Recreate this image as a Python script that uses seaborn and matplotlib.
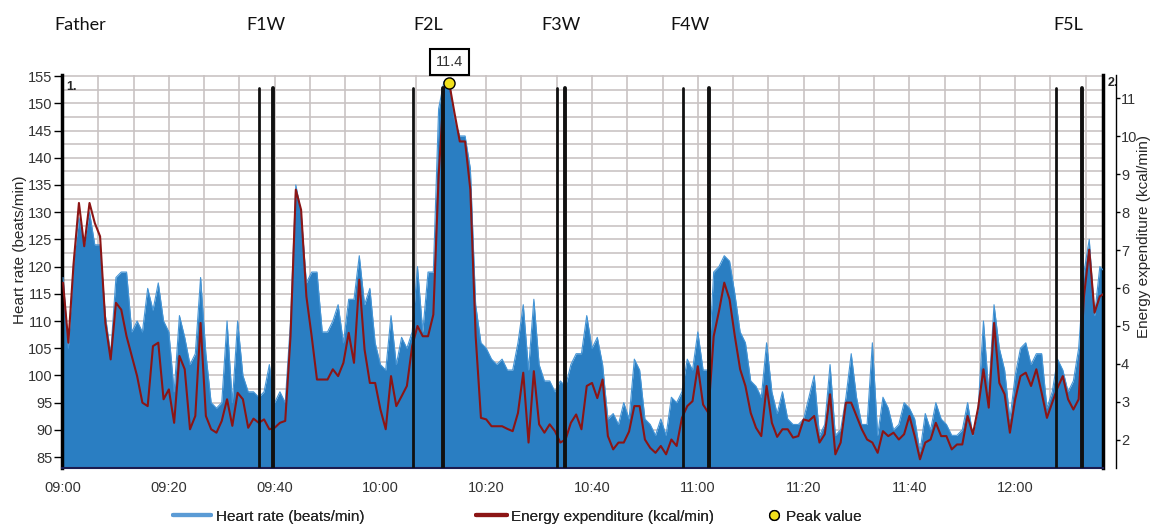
import numpy as np
import pandas as pd
import seaborn as sns
import matplotlib.pyplot as plt
import matplotlib.transforms as mtransforms
from matplotlib.lines import Line2D
from matplotlib.ticker import MultipleLocator

# One reading per minute, starting at 09:00
heart_rate = [
    118, 105, 121, 129, 124, 130, 124, 124, 111, 104, 118, 119, 119, 108, 110, 108, 116,
    112, 117, 110, 108, 97, 111, 107, 102, 104, 118, 104, 95, 94, 95, 110, 95, 110,
    100, 97, 97, 96, 97, 102, 95, 97, 95, 110, 135, 130, 117, 119, 119, 108, 108,
    110, 113, 106, 114, 114, 122, 113, 116, 106, 102, 101, 111, 102, 107, 105, 108, 120,
    108, 119, 119, 149, 154, 154, 147, 144, 144, 138, 113, 106, 105, 103, 102, 103, 101,
    101, 106, 113, 101, 114, 102, 99, 99, 97, 99, 98, 102, 104, 104, 111, 105, 107,
    102, 92, 93, 91, 95, 92, 103, 101, 92, 91, 89, 92, 89, 96, 95, 97, 103,
    101, 108, 101, 101, 119, 120, 122, 121, 115, 108, 106, 99, 98, 96, 106, 97, 93,
    97, 92, 91, 91, 92, 96, 100, 89, 91, 102, 89, 90, 96, 104, 96, 91, 91,
    106, 89, 96, 94, 90, 91, 95, 94, 92, 86, 93, 90, 95, 92, 91, 89, 89,
    90, 95, 89, 94, 110, 97, 113, 105, 101, 92, 100, 105, 106, 102, 104, 104, 94,
    97, 103, 101, 97, 99, 105, 119, 125, 111, 120, 119,
]

energy = [
    6.14, 4.56, 6.66, 8.24, 7.10, 8.24, 7.71, 7.36, 5.08, 4.12, 5.61, 5.43, 4.73, 4.21, 3.68, 2.98, 2.89,
    4.47, 4.56, 3.07, 3.33, 2.45, 4.21, 3.86, 2.28, 2.63, 5.08, 2.63, 2.28, 2.19, 2.50, 3.07, 2.37, 3.24,
    3.07, 2.32, 2.56, 2.45, 2.54, 2.28, 2.32, 2.45, 2.50, 4.73, 8.59, 8.06, 5.78, 4.73, 3.59, 3.59, 3.59,
    3.86, 3.68, 4.03, 4.82, 4.03, 6.22, 4.38, 3.50, 3.50, 2.80, 2.28, 3.68, 2.89, 3.15, 3.42, 4.47, 5.00,
    4.73, 4.73, 5.30, 8.94, 11.27, 11.40, 10.61, 9.86, 9.86, 8.59, 4.73, 2.58, 2.54, 2.36, 2.36, 2.36, 2.29,
    2.23, 2.71, 3.77, 1.93, 3.81, 2.41, 2.19, 2.41, 2.23, 1.93, 2.01, 2.45, 2.67, 2.28, 3.42, 3.50, 3.10,
    3.59, 2.10, 1.75, 1.93, 1.93, 2.22, 2.89, 2.89, 2.01, 1.79, 1.66, 1.84, 1.62, 2.01, 1.84, 2.58, 2.89,
    3.02, 3.94, 2.93, 2.71, 4.73, 5.39, 6.14, 5.70, 4.73, 3.86, 3.42, 2.71, 2.32, 2.10, 3.42, 2.45, 2.08,
    2.28, 2.28, 2.06, 2.10, 2.54, 2.50, 2.63, 1.93, 2.15, 3.20, 1.62, 1.93, 2.98, 2.98, 2.63, 2.28, 2.01,
    1.93, 1.66, 2.23, 2.10, 2.19, 2.01, 2.15, 2.63, 2.10, 1.49, 1.93, 2.01, 2.45, 2.10, 2.10, 1.75, 1.88,
    1.88, 2.63, 2.15, 2.85, 3.86, 2.85, 5.08, 3.50, 3.20, 2.19, 3.07, 3.68, 3.77, 3.42, 3.86, 3.24, 2.58,
    2.98, 3.37, 3.68, 3.07, 2.80, 3.07, 5.78, 7.01, 5.35, 5.78, 5.87,
]

tick_minutes = [0, 20, 40, 60, 80, 100, 120, 140, 160, 180]
tick_labels = ["09:00", "09:20", "09:40", "10:00", "10:20", "10:40", "11:00", "11:20", "11:40", "12:00"]

# event markers (minutes after 09:00)
event_minutes = [37.05, 39.7, 66.2, 71.8, 93.4, 94.9, 117.2, 122.1, 187.7, 192.6]
event_widths = [2.0, 2.8] * 5
event_labels = ["Father", "F1W", "F2L", "F3W", "F4W", "F5L"]
event_label_minutes = [3.2, 38.4, 69.0, 94.2, 118.5, 190.0]

peak_minute = 73
peak_value = 11.4

BLUE = "#2a7ec2"
BLUE_EDGE = "#4595d6"
RED = "#8c1515"
YELLOW = "#f0e01c"

df = pd.DataFrame({
    "minute": np.arange(len(heart_rate)),
    "heart_rate": heart_rate,
    "energy": energy,
})

sns.set_style("white")
plt.rcParams["font.family"] = ["Liberation Sans", "DejaVu Sans"]

fig = plt.figure(figsize=(11.56, 5.24), dpi=100)
ax = fig.add_axes([62 / 1156, 56 / 524, 1041 / 1156, 393 / 524])

# heart rate as filled area
ax.fill_between(df["minute"], 80, df["heart_rate"], color=BLUE, lw=0, zorder=2)
sns.lineplot(data=df, x="minute", y="heart_rate", ax=ax, color=BLUE_EDGE, lw=0.8, zorder=3)

ax.set_xlim(-0.2, 196.6)
ax.set_ylim(83, 155.2)
ax.set_xticks(tick_minutes)
ax.set_xticklabels(tick_labels)
ax.xaxis.set_minor_locator(MultipleLocator(20 / 3))
ax.set_yticks(range(85, 156, 5))
ax.yaxis.set_minor_locator(MultipleLocator(2.5))
ax.grid(which="both", color="#c9c3c3", lw=1.2)
ax.set_axisbelow(True)
ax.set_xlabel("")
ax.set_ylabel("Heart rate (beats/min)", fontsize=11)
ax.yaxis.set_label_coords(-0.034, 0.555)

ax.tick_params(axis="y", which="major", left=True, length=6, width=1, color="black",
               labelsize=10.5, labelcolor="#333333", pad=1)
ax.tick_params(axis="x", which="major", bottom=False, labelsize=10.5, labelcolor="#333333", pad=6)
ax.tick_params(which="minor", length=0)

ax.spines["top"].set_visible(False)
ax.spines["left"].set_linewidth(2.5)
ax.spines["left"].set_color("black")
ax.spines["right"].set_linewidth(2.5)
ax.spines["right"].set_color("black")
ax.spines["bottom"].set_linewidth(1.5)
ax.spines["bottom"].set_color("#1c1c50")

# energy expenditure on the right axis
ax2 = ax.twinx()
sns.lineplot(data=df, x="minute", y="energy", ax=ax2, color=RED, lw=1.5, zorder=4)
ax2.set_ylim(1.26, 11.61)
ax2.set_yticks(range(2, 12))
ax2.grid(False)
ax2.set_xlabel("")
ax2.set_ylabel("Energy expenditure (kcal/min)", fontsize=11, rotation=90)
ax2.yaxis.set_label_coords(1.033, 0.59)
for side in ["top", "left", "bottom"]:
    ax2.spines[side].set_visible(False)
ax2.spines["right"].set_position(("outward", 9))
ax2.spines["right"].set_linewidth(1)
ax2.spines["right"].set_color("black")
ax2.tick_params(axis="y", right=True, length=3, width=1, color="black",
                labelsize=10.5, labelcolor="#333333", pad=1)

for m, w in zip(event_minutes, event_widths):
    ax2.axvline(m, ymin=0, ymax=0.967, color="#111111", lw=w, zorder=5)

ax2.plot(peak_minute, peak_value, "o", mfc=YELLOW, mec="black", mew=1, ms=8,
         zorder=6, clip_on=False)
ax2.annotate(f"{peak_value}", xy=(peak_minute, peak_value), xytext=(0, 15),
             textcoords="offset points", ha="center", va="center", fontsize=10.5,
             color="#333333", annotation_clip=False,
             bbox=dict(boxstyle="square,pad=0.4", fc="white", ec="black", lw=1.5))

ax.text(0.004, 0.985, "1.", transform=ax.transAxes, va="top", ha="left",
        fontsize=9, fontweight="bold")
ax.text(1.004, 0.995, "2.", transform=ax.transAxes, va="top", ha="left",
        fontsize=9, fontweight="bold")

# subject labels above the chart
trans = mtransforms.blended_transform_factory(ax.transData, fig.transFigure)
for lab, m in zip(event_labels, event_label_minutes):
    ax.text(m, 0.952, lab, transform=trans, ha="center", va="center",
            fontsize=13, family=["Lato", "DejaVu Sans"], color="#111111")

# legend entries placed individually, like the original
legend_items = [
    (Line2D([], [], color="#5b9bd5", lw=3), "Heart rate (beats/min)", 173 / 1156, 2.5),
    (Line2D([], [], color=RED, lw=3), "Energy expenditure (kcal/min)", 476 / 1156, 2.0),
    (Line2D([], [], ls="", marker="o", mfc=YELLOW, mec="black", ms=7), "Peak value", 766 / 1156, 1.0),
]
for handle, text, x, hl in legend_items:
    leg = fig.legend([handle], [text], loc="center left", bbox_to_anchor=(x, 0.014),
                     frameon=False, fontsize=11, handlelength=hl, handletextpad=0.3,
                     borderpad=0, borderaxespad=0)
    fig.add_artist(leg)

fig.savefig("out.png", dpi=100)
